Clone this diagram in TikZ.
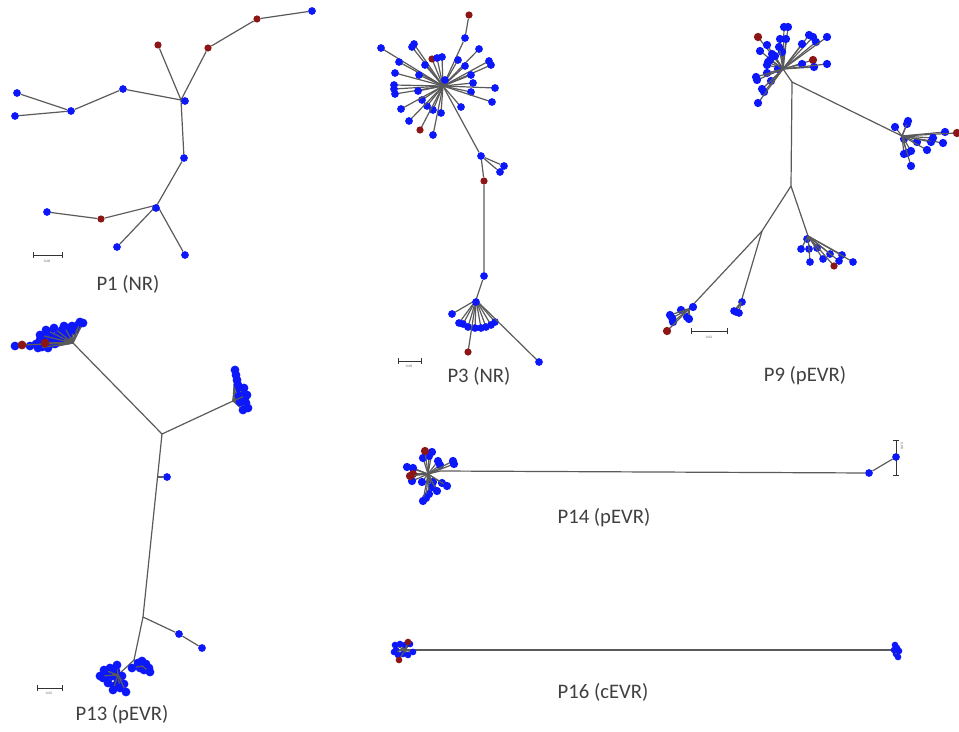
\documentclass[tikz,border=0pt]{standalone}
\usepackage{fontspec}
\setmainfont{Carlito}
\usetikzlibrary{backgrounds}
\definecolor{dblue}{RGB}{12,24,250}
\definecolor{dred}{RGB}{140,22,22}
\definecolor{egray}{RGB}{90,90,90}
\definecolor{lab}{RGB}{64,64,64}
\begin{document}
\begin{tikzpicture}[x=0.75pt,y=-0.75pt,
  edge/.style={draw=egray,line width=0.9pt},
  bdot/.style={circle,fill=dblue,inner sep=0pt,minimum size=5.8pt},
  rdot/.style={circle,fill=dred,inner sep=0pt,minimum size=5.4pt},
  lbl/.style={font=\fontsize{15.5}{18}\selectfont,text=lab},
  sbar/.style={draw=black!80,line width=0.6pt},
  stxt/.style={font=\fontsize{2.6}{3}\selectfont,text=black!65,inner sep=0pt}]
\useasboundingbox (0,0) rectangle (959,731);

% ================= P1 =================
\coordinate (p1h) at (181,100);
\coordinate (p1k) at (157,205);
\node[bdot] (p1a) at (312,11) {};
\node[rdot] (p1b) at (257,19) {};
\node[rdot] (p1c) at (208,48) {};
\node[rdot] (p1d) at (158,45) {};
\node[bdot] (p1hd) at (185,101) {};
\node[bdot] (p1e) at (123,89) {};
\node[bdot] (p1f) at (71,111) {};
\node[bdot] (p1g) at (17,93) {};
\node[bdot] (p1i) at (15,116) {};
\node[bdot] (p1j) at (184,158) {};
\node[bdot] (p1kd) at (156,208) {};
\node[rdot] (p1l) at (101,219) {};
\node[bdot] (p1m) at (47,212) {};
\node[bdot] (p1n) at (117,247) {};
\node[bdot] (p1o) at (185,255) {};
\begin{scope}[on background layer]
\draw[edge] (p1a) -- (p1b) -- (p1c) -- (p1h);
\draw[edge] (p1d) -- (p1h) -- (p1e) -- (p1f) -- (p1g);
\draw[edge] (p1f) -- (p1i);
\draw[edge] (p1h) -- (p1j) -- (p1k) -- (p1l) -- (p1m);
\draw[edge] (p1k) -- (p1n);
\draw[edge] (p1k) -- (p1o);
\end{scope}
\coordinate (p1s1) at (33,255); \coordinate (p1s2) at (62,255);
\draw[sbar] (p1s1) -- (p1s2);
\draw[sbar] ([yshift=-2]p1s1) -- ([yshift=2]p1s1);
\draw[sbar] ([yshift=-2]p1s2) -- ([yshift=2]p1s2);
\node[stxt] (p1st) at (47,261) {0.08};
\node[lbl] (p1lab) at (128,284) {P1 (NR)};

% ================= P3 =================
\coordinate (p3h) at (443,86);
\node[bdot] (p3t1) at (465,38) {};
\node[rdot] (p3t2) at (469,15) {};
\begin{scope}[on background layer]
\draw[edge] (p3h) -- (p3t1) -- (p3t2);
\end{scope}
\foreach \px/\py/\c [count=\i] in {381/48/bdot,399/62/bdot,412/47/bdot,414/44/bdot,432/59/rdot,437/58/bdot,442/57/bdot,425/65/bdot,458/60/bdot,479/49/bdot,465/66/bdot,489/61/bdot,491/65/bdot,471/75/bdot,395/73/bdot,419/75/bdot,445/80/bdot,473/83/bdot,495/88/bdot,394/85/bdot,394/89/bdot,395/94/bdot,418/91/bdot,471/92/bdot,492/102/bdot,422/100/bdot,401/109/bdot,427/106/bdot,433/110/bdot,461/107/bdot,441/113/bdot,409/121/bdot,420/130/rdot,433/135/bdot}
  {\draw[edge] (p3h) -- (\px,\py) node[\c] (p3s\i) {};}
\node[bdot] (p3n) at (481,156) {};
\node[bdot] (p3n1) at (504,166) {};
\node[bdot] (p3n2) at (500,172) {};
\node[rdot] (p3r) at (484,181) {};
\node[bdot] (p3m) at (484,276) {};
\coordinate (p3h2) at (476,300);
\begin{scope}[on background layer]
\draw[edge] (p3h) -- (p3n) -- (p3r) -- (p3m) -- (p3h2);
\draw[edge] (p3n) -- (p3n1);
\draw[edge] (p3n) -- (p3n2);
\end{scope}
\foreach \px/\py/\c [count=\i] in {452/314/bdot,459/323/bdot,463/324/bdot,468/327/bdot,475/328/bdot,481/328/bdot,486/327/bdot,491/325/bdot,495/322/bdot,468/352/rdot,539/362/bdot}
  {\draw[edge] (p3h2) -- (\px,\py) node[\c] (p3b\i) {};}
\node[bdot] (p3hd) at (476,302) {};
\coordinate (p3s1) at (398,361); \coordinate (p3s2) at (421,361);
\draw[sbar] (p3s1) -- (p3s2);
\draw[sbar] ([yshift=-2]p3s1) -- ([yshift=2]p3s1);
\draw[sbar] ([yshift=-2]p3s2) -- ([yshift=2]p3s2);
\node[stxt] (p3st) at (409,366) {0.08};
\node[lbl] (p3lab) at (479,376) {P3 (NR)};

% ================= P9 =================
\coordinate (p9u) at (783,69);
\coordinate (p9t) at (792,82);
\coordinate (p9rh) at (902,136);
\coordinate (p9ln) at (791,186);
\coordinate (p9m1) at (762,231);
\coordinate (p9m2) at (808,236);
\coordinate (p9ll) at (689,309);
\coordinate (p9lm) at (741,302);
\draw[edge] (p9u) -- (p9t) -- (p9ln) -- (p9m1) -- (p9ll);
\draw[edge] (p9t) -- (p9rh);
\draw[edge] (p9ln) -- (p9m2);
\draw[edge] (p9m1) -- (p9lm);
\foreach \px/\py/\c [count=\i] in {784/27/bdot,788/27/bdot,758/37/rdot,780/39/bdot,786/39/bdot,809/35/bdot,813/37/bdot,816/42/bdot,827/37/bdot,802/44/bdot,767/45/bdot,760/51/bdot,772/54/bdot,775/56/bdot,782/52/bdot,768/62/bdot,767/65/bdot,813/60/rdot,814/67/bdot,802/64/bdot,827/64/bdot,778/69/bdot,767/73/bdot,756/77/bdot,757/80/bdot,771/81/bdot,762/89/bdot,764/92/bdot,758/103/bdot,770/60/bdot,779/47/bdot}
  {\draw[edge] (p9u) -- (\px,\py) node[\c,minimum size=6.2pt] (p9a\i) {};}
\foreach \px/\py/\c [count=\i] in {895/127/bdot,907/124/bdot,908/121/bdot,904/139/bdot,917/142/bdot,931/142/bdot,927/150/bdot,943/143/bdot,945/132/bdot,957/133/rdot,907/153/bdot,911/151/bdot,904/154/bdot,911/166/bdot,933/138/bdot}
  {\draw[edge] (p9rh) -- (\px,\py) node[\c,minimum size=6.2pt] (p9b\i) {};}
\foreach \px/\py/\c [count=\i] in {807/239/bdot,801/249/bdot,809/249/bdot,817/248/bdot,823/259/bdot,810/262/bdot,830/254/bdot,842/255/bdot,839/261/bdot,834/266/rdot,853/262/bdot}
  {\draw[edge] (p9m2) -- (\px,\py) node[\c] (p9c\i) {};}
\foreach \px/\py/\c [count=\i] in {693/307/bdot,681/310/bdot,670/315/bdot,672/318/bdot,687/317/bdot,689/319/bdot,673/322/bdot,667/331/rdot}
  {\draw[edge] (p9ll) -- (\px,\py) node[\c,minimum size=6.2pt] (p9d\i) {};}
\foreach \px/\py/\c [count=\i] in {742/302/bdot,736/312/bdot,739/313/bdot,734/311/bdot}
  {\draw[edge] (p9lm) -- (\px,\py) node[\c] (p9e\i) {};}
\coordinate (p9s1) at (691,331); \coordinate (p9s2) at (727,331);
\draw[sbar] (p9s1) -- (p9s2);
\draw[sbar] ([yshift=-2]p9s1) -- ([yshift=2]p9s1);
\draw[sbar] ([yshift=-2]p9s2) -- ([yshift=2]p9s2);
\node[stxt] (p9st) at (709,337) {0.02};
\node[lbl] (p9lab) at (805,376) {P9 (pEVR)};

% ================= P13 =================
\coordinate (p13ul) at (73,343);
\coordinate (p13c) at (162,434);
\coordinate (p13rh) at (233,401);
\coordinate (p13n) at (143,617);
\coordinate (p13tr) at (158,477);
\coordinate (p13n2) at (134,660);
\coordinate (p13lh) at (118,675);
\coordinate (p13rh2) at (142,666);
\node[bdot] (p13x) at (167,477) {};
\node[bdot] (p13y1) at (179,634) {};
\node[bdot] (p13y2) at (202,648) {};
\draw[edge] (p13ul) -- (p13c) -- (p13rh);
\draw[edge] (p13c) -- (p13n) -- (p13n2) -- (p13lh);
\draw[edge] (p13n2) -- (p13rh2);
\draw[edge] (p13tr) -- (p13x);
\draw[edge] (p13n) -- (p13y1) -- (p13y2);
\foreach \px/\py/\c [count=\i] in {15/346/bdot,30/346/bdot,36/344/bdot,40/340/bdot,42/347/bdot,44/336/bdot,46/342/bdot,48/348/bdot,50/332/bdot,52/338/bdot,55/344/bdot,58/335/bdot,60/340/bdot,62/330/bdot,66/336/bdot,68/328/bdot,70/333/bdot,72/326/bdot,75/330/bdot,78/325/bdot,80/322/bdot,83/323/bdot,46/330/bdot,40/335/bdot,54/328/bdot,64/326/bdot,50/343/bdot,38/348/bdot,22/345/rdot,45/343/rdot}
  {\draw[edge] (p13ul) -- (\px,\py) node[\c,minimum size=6.6pt] (p13a\i) {};}
\foreach \px/\py/\c [count=\i] in {235/370/bdot,236/375/bdot,237/380/bdot,238/385/bdot,240/390/bdot,242/395/bdot,245/398/bdot,246/403/bdot,248/408/bdot,243/410/bdot,240/402/bdot,244/388/bdot,239/396/bdot,247/395/bdot}
  {\draw[edge] (p13rh) -- (\px,\py) node[\c,minimum size=6.6pt] (p13b\i) {};}
\foreach \px/\py/\c [count=\i] in {103/678/bdot,106/672/bdot,108/683/bdot,110/668/bdot,112/676/bdot,114/686/bdot,116/671/bdot,118/681/bdot,120/688/bdot,122/676/bdot,124/684/bdot,126/692/bdot,108/675/bdot,100/676/bdot,117/665/bdot,113/690/bdot,104/670/bdot}
  {\draw[edge] (p13lh) -- (\px,\py) node[\c,minimum size=6.6pt] (p13c\i) {};}
\foreach \px/\py/\c [count=\i] in {138/663/bdot,142/661/bdot,146/664/bdot,149/668/bdot,144/670/bdot,140/668/bdot,150/672/bdot,132/668/bdot}
  {\draw[edge] (p13rh2) -- (\px,\py) node[\c,minimum size=6.6pt] (p13d\i) {};}
\coordinate (p13s1) at (37,688); \coordinate (p13s2) at (62,688);
\draw[sbar] (p13s1) -- (p13s2);
\draw[sbar] ([yshift=-2]p13s1) -- ([yshift=2]p13s1);
\draw[sbar] ([yshift=-2]p13s2) -- ([yshift=2]p13s2);
\node[stxt] (p13st) at (49,693) {0.05};
\node[lbl] (p13lab) at (122,715) {P13 (pEVR)};

% ================= P14 =================
\coordinate (p14h) at (428,474);
\coordinate (p14j) at (440,471);
\node[bdot] (p14e) at (869,473) {};
\node[bdot] (p14f) at (896,457) {};
\begin{scope}[on background layer]
\draw[edge] (p14h) -- (p14j) -- (p14e) -- (p14f);
\end{scope}
\foreach \px/\py/\c [count=\i] in {432/452/bdot,423/458/bdot,429/456/bdot,407/467/bdot,413/468/bdot,438/461/bdot,440/465/bdot,453/461/bdot,454/464/bdot,412/481/bdot,422/482/bdot,433/482/bdot,432/487/bdot,442/483/bdot,447/486/bdot,437/491/bdot,429/494/bdot,426/498/bdot,423/501/bdot,425/451/rdot,413/474/rdot,410/476/rdot}
  {\draw[edge] (p14h) -- (\px,\py) node[\c,minimum size=6.2pt] (p14a\i) {};}
\coordinate (p14s1) at (896,440); \coordinate (p14s2) at (896,475);
\begin{scope}[on background layer]
\draw[sbar] (p14s1) -- (p14s2);
\end{scope}
\draw[sbar] ([xshift=-2]p14s1) -- ([xshift=2]p14s1);
\draw[sbar] ([xshift=-2]p14s2) -- ([xshift=2]p14s2);
\node[stxt,rotate=-90] (p14st) at (902,446) {0.08};
\node[lbl] (p14lab) at (604,518) {P14 (pEVR)};

% ================= P16 =================
\coordinate (p16h) at (405,650);
\coordinate (p16r) at (894,650);
\draw[edge] (p16h) -- (p16r);
\foreach \px/\py/\c [count=\i] in {395/645/bdot,400/644/bdot,405/645/bdot,410/644/bdot,396/650/bdot,398/655/bdot,403/654/bdot,408/655/bdot,413/652/bdot,408/642/rdot,399/660/rdot,394/652/bdot}
  {\draw[edge] (p16h) -- (\px,\py) node[\c,minimum size=5pt] (p16a\i) {};}
\foreach \px/\py/\c [count=\i] in {895/645/bdot,897/648/bdot,899/651/bdot,896/654/bdot,898/657/bdot,894/650/bdot}
  {\draw[edge] (p16r) -- (\px,\py) node[\c,minimum size=5pt] (p16b\i) {};}
\node[lbl] (p16lab) at (603,692) {P16 (cEVR)};
\end{tikzpicture}
\end{document}
